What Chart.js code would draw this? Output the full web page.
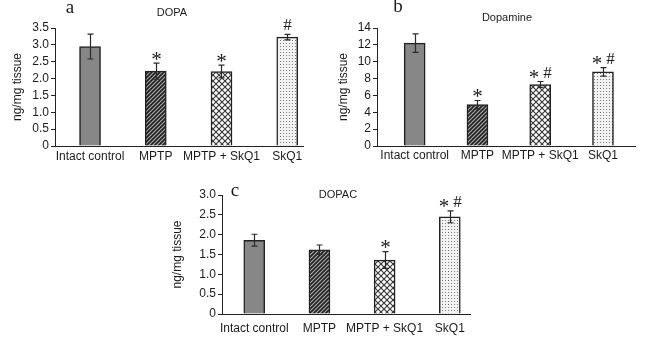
<!DOCTYPE html>
<html>
<head>
<meta charset="utf-8">
<script src="https://cdn.jsdelivr.net/npm/chart.js@4.4.1/dist/chart.umd.min.js"></script>
<style>
  body { margin: 0; background: #fff; }
  .panel { position: absolute; }
</style>
</head>
<body>
<div class="panel" style="left:0;top:0"><canvas id="dopaChart" width="320" height="165"></canvas></div>
<div class="panel" style="left:320px;top:0"><canvas id="dopamineChart" width="328" height="165"></canvas></div>
<div class="panel" style="left:150px;top:165px"><canvas id="dopacChart" width="350" height="174"></canvas></div>
<script>
const groups = ['Intact control', 'MPTP', 'MPTP + SkQ1', 'SkQ1'];

// DOPA, ng/mg tissue (mean, SEM, significance marks)
const dopaMean = [2.95, 2.22, 2.21, 3.23];
const dopaSem = [0.37, 0.24, 0.19, 0.08];
const dopaSig = ['', '*', '*', '#'];

// Dopamine
const dopamineMean = [12.2, 4.9, 7.3, 8.8];
const dopamineSem = [1.1, 0.5, 0.35, 0.5];
const dopamineSig = ['', '*', '*#', '*#'];

// DOPAC
const dopacMean = [1.86, 1.62, 1.36, 2.45];
const dopacSem = [0.15, 0.12, 0.21, 0.15];
const dopacSig = ['', '', '*', '*#'];

// y axis range: [max, step]
const dopaAxis = [3.5, 0.5];
const dopamineAxis = [14, 2];
const dopacAxis = [3.0, 0.5];

const SANS = "'Liberation Sans', Arial, sans-serif";
const SERIF = "'Liberation Serif', 'Times New Roman', serif";

Chart.defaults.font.family = SANS;
Chart.defaults.font.size = 12;
Chart.defaults.color = '#1a1a1a';

function makePattern(size, draw) {
    const c = document.createElement('canvas');
    c.width = c.height = size;
    const g = c.getContext('2d');
    draw(g, size);
    return g.createPattern(c, 'repeat');
}

// fills for the four groups: solid, hatched, cross-hatched, dotted
const fills = [
    '#878787',
    makePattern(4, (g, s) => {
        g.fillStyle = '#aaaaaa';
        g.fillRect(0, 0, s, s);
        g.strokeStyle = '#1e1e1e';
        g.lineWidth = 1.6;
        g.beginPath();
        g.moveTo(-1, s + 1); g.lineTo(s + 1, -1);
        g.moveTo(-1, 1); g.lineTo(1, -1);
        g.moveTo(s - 1, s + 1); g.lineTo(s + 1, s - 1);
        g.stroke();
    }),
    makePattern(6, (g, s) => {
        g.fillStyle = '#fff';
        g.fillRect(0, 0, s, s);
        g.strokeStyle = '#333';
        g.lineWidth = 1.1;
        g.beginPath();
        g.moveTo(0, 0); g.lineTo(s, s);
        g.moveTo(0, s); g.lineTo(s, 0);
        g.stroke();
    }),
    makePattern(3, (g, s) => {
        g.fillStyle = '#f2f2f2';
        g.fillRect(0, 0, s, s);
        g.fillStyle = '#7a7a7a';
        g.fillRect(1, 1, 1, 1);
    })
];

function drawGlyph(ctx, ch, x, cy) {
    ctx.font = ch === '*' ? '21px ' + SERIF : '17px ' + SERIF;
    const m = ctx.measureText(ch);
    const base = cy + (m.actualBoundingBoxAscent - m.actualBoundingBoxDescent) / 2;
    ctx.fillText(ch, x, base);
}

// error bars, significance marks, panel letter, title and y title
const panelDecor = {
    id: 'panelDecor',
    afterDatasetsDraw(chart, args, opts) {
        const { ctx, chartArea, scales: { x, y } } = chart;
        const means = chart.data.datasets[0].data;
        ctx.save();
        ctx.strokeStyle = '#2a2a2a';
        ctx.lineWidth = 1.2;
        ctx.fillStyle = '#1a1a1a';
        ctx.textAlign = 'center';
        means.forEach((pt, i) => {
            const px = Math.round(x.getPixelForValue(pt.x)) + 0.5;
            const top = y.getPixelForValue(pt.y + opts.sem[i]);
            const bot = y.getPixelForValue(pt.y - opts.sem[i]);
            ctx.beginPath();
            ctx.moveTo(px, top); ctx.lineTo(px, bot);
            ctx.moveTo(px - 3, top); ctx.lineTo(px + 3, top);
            ctx.moveTo(px - 3, bot); ctx.lineTo(px + 3, bot);
            ctx.stroke();

            const sig = opts.sig[i];
            if (sig.length === 2) {
                drawGlyph(ctx, '*', px - 6.5, top - 7.5);
                drawGlyph(ctx, '#', px + 7, top - 9);
            } else if (sig === '*') {
                drawGlyph(ctx, '*', px, top - 7.5);
            } else if (sig === '#') {
                drawGlyph(ctx, '#', px, top - 9.5);
            }
        });

        ctx.textBaseline = 'middle';
        ctx.font = '19px ' + SERIF;
        ctx.fillText(opts.letter, opts.letterPos[0], opts.letterPos[1]);
        ctx.font = '11px ' + SANS;
        ctx.fillText(opts.title, opts.titlePos[0], opts.titlePos[1]);

        ctx.font = '12px ' + SANS;
        ctx.translate(opts.yTitleX, (chartArea.top + chartArea.bottom) / 2);
        ctx.rotate(-Math.PI / 2);
        ctx.fillText('ng/mg tissue', 0, 0);
        ctx.restore();
    }
};

function buildPanel(id, cfg) {
    const [yMax, yStep] = cfg.axis;
    return new Chart(document.getElementById(id), {
        type: 'bar',
        data: {
            datasets: [{
                data: cfg.means.map((v, i) => ({ x: i, y: v })),
                backgroundColor: fills,
                borderColor: '#222',
                borderWidth: 1.5,
                barThickness: 21
            }]
        },
        options: {
            responsive: false,
            animation: false,
            layout: { padding: { top: cfg.top, right: cfg.right, left: 0, bottom: 0 } },
            plugins: {
                legend: { display: false },
                tooltip: { enabled: false },
                panelDecor: {
                    sem: cfg.sem,
                    sig: cfg.sig,
                    letter: cfg.letter,
                    letterPos: cfg.letterPos,
                    title: cfg.title,
                    titlePos: cfg.titlePos,
                    yTitleX: cfg.yTitleX
                }
            },
            scales: {
                x: {
                    type: 'linear',
                    min: cfg.xRange[0],
                    max: cfg.xRange[1],
                    offset: false,
                    grid: { display: false, drawTicks: false },
                    border: { color: '#222', width: 1 },
                    ticks: {
                        stepSize: 1,
                        includeBounds: false,
                        autoSkip: false,
                        maxRotation: 0,
                        padding: cfg.xPad,
                        callback: v => groups[v] ?? ''
                    },
                    afterFit: s => { s.height = cfg.xHeight; }
                },
                y: {
                    min: 0,
                    max: yMax,
                    grid: { drawOnChartArea: false, tickLength: 4, color: '#222' },
                    border: { color: '#222', width: 1 },
                    ticks: {
                        stepSize: yStep,
                        autoSkip: false,
                        padding: 2,
                        callback: v => v === 0 ? '0' : (yStep < 1 ? v.toFixed(1) : String(v))
                    },
                    afterFit: s => { s.width = cfg.yWidth; }
                }
            }
        },
        plugins: [panelDecor]
    });
}

buildPanel('dopaChart', {
    means: dopaMean, sem: dopaSem, sig: dopaSig, axis: dopaAxis,
    letter: 'a', letterPos: [70, 8], title: 'DOPA', titlePos: [172, 13],
    yTitleX: 18, yWidth: 55, top: 28, right: 17, xHeight: 19, xPad: 3,
    xRange: [-0.533, 3.24]
});

buildPanel('dopamineChart', {
    means: dopamineMean, sem: dopamineSem, sig: dopamineSig, axis: dopamineAxis,
    letter: 'b', letterPos: [78, 7], title: 'Dopamine', titlePos: [187, 18],
    yTitleX: 24, yWidth: 57, top: 28, right: 13, xHeight: 19, xPad: 2,
    xRange: [-0.6, 3.51]
});

buildPanel('dopacChart', {
    means: dopacMean, sem: dopacSem, sig: dopacSig, axis: dopacAxis,
    letter: 'c', letterPos: [85, 26], title: 'DOPAC', titlePos: [188, 30],
    yTitleX: 28, yWidth: 72, top: 30, right: 30, xHeight: 25, xPad: 7,
    xRange: [-0.495, 3.31]
});
</script>
</body>
</html>
